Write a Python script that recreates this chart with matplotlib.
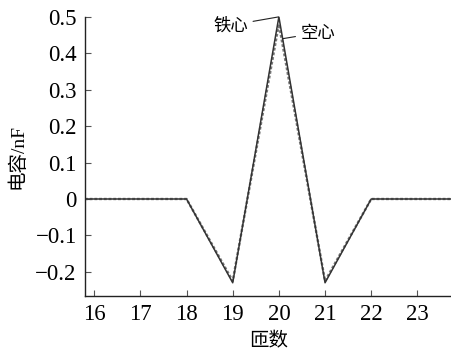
import matplotlib
matplotlib.use("Agg")
import matplotlib.pyplot as plt

# ── data ──
turns      = [15.8, 18, 19, 20, 21, 22, 23.75]
iron_core  = [0.0, 0.0, -0.23, 0.50, -0.23, 0.0, 0.0]
air_core   = [0.0, 0.0, -0.225, 0.48, -0.225, 0.0, 0.0]
x_ticks    = [16, 17, 18, 19, 20, 21, 22, 23]
y_ticks    = [-0.2, -0.1, 0, 0.1, 0.2, 0.3, 0.4, 0.5]
y_labels   = ["\u22120.2", "\u22120.1", "0", "0.1", "0.2", "0.3", "0.4", "0.5"]

SERIF = ["Liberation Serif", "Noto Sans CJK SC"]
CJK   = ["Noto Sans CJK SC", "DejaVu Sans"]

fig = plt.figure(figsize=(4.52, 3.51), dpi=100)
ax = fig.add_axes([0.188, 0.157, 0.812, 0.795])

ax.plot(turns, air_core, color="#777777", linewidth=1.7, linestyle=(0, (1.2, 0.8)))
ax.plot(turns, iron_core, color="#333333", linewidth=1.1)

ax.set_xlim(15.8, 23.75)
ax.set_ylim(-0.266, 0.5)

ax.spines["top"].set_visible(False)
ax.spines["right"].set_visible(False)
for s in ("left", "bottom"):
    ax.spines[s].set_linewidth(1.0)
    ax.spines[s].set_color("#222222")

ax.set_xticks(x_ticks)
ax.set_xticklabels([str(t) for t in x_ticks], family=SERIF, fontsize=16.5)
ax.set_yticks(y_ticks)
ax.set_yticklabels(y_labels, family=SERIF, fontsize=16.5)
ax.tick_params(direction="in", length=4, width=0.8, color="#555555", pad=6)

ax.set_xlabel("匝数", family=CJK, fontsize=14, labelpad=4)
ax.set_ylabel("电容/nF", family=SERIF, fontsize=14, labelpad=6)

# labels for the two curves
ax.annotate("铁心", xy=(20, 0.5), xytext=(18.96, 0.477), family=CJK, fontsize=12.5,
            ha="center", va="center",
            arrowprops=dict(arrowstyle="-", color="#222222", lw=0.8,
                            shrinkA=1.5, shrinkB=0))
ax.annotate("空心", xy=(20.08, 0.44), xytext=(20.84, 0.456), family=CJK, fontsize=12.5,
            ha="center", va="center",
            arrowprops=dict(arrowstyle="-", color="#222222", lw=0.8,
                            shrinkA=1.5, shrinkB=0))

fig.savefig("out.png", dpi=100)
